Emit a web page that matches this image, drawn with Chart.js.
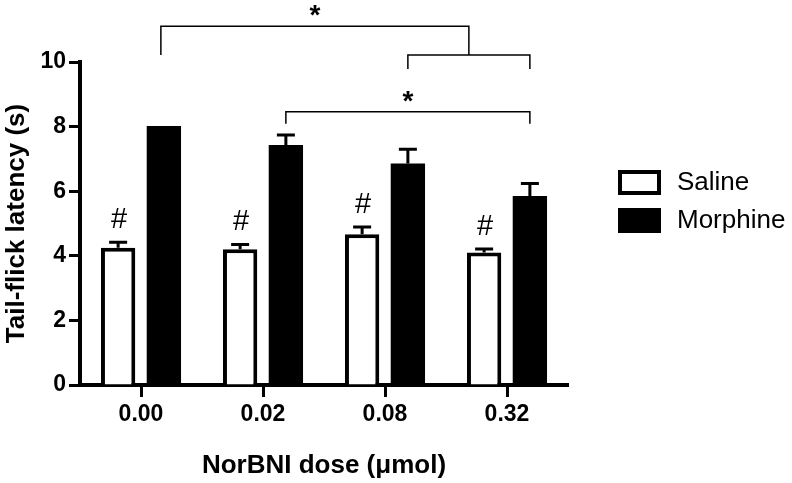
<!DOCTYPE html>
<html>
<head>
<meta charset="utf-8">
<script src="https://cdn.jsdelivr.net/npm/chart.js@4.4.1/dist/chart.umd.min.js"></script>
<style>
  html, body { margin: 0; padding: 0; background: #fff; }
</style>
</head>
<body>
<canvas id="tailChart" width="792" height="483"></canvas>
<script>
const doses = ['0.00', '0.02', '0.08', '0.32'];
const salineMean = [4.25, 4.2, 4.67, 4.1];
const salineSem = [0.17, 0.15, 0.22, 0.11];
const morphineMean = [8.02, 7.43, 6.86, 5.85];
const morphineSem = [0, 0.31, 0.44, 0.39];
const yTicks = [0, 2, 4, 6, 8, 10];

// '#' over saline bars
const hashMarks = [true, true, true, true];

// brackets between morphine bars (dose indexes, heights in seconds)
const pairBracket = { from: 2, to: 3, y: 10.22, leg: 9.78 };
const topBracket = { from: 0, y: 11.11, leg: 10.22, label: '*' };
const lowBracket = { from: 1, to: 3, y: 8.46, leg: 8.09, label: '*' };

const FONT = '"Liberation Sans", Arial, Helvetica, sans-serif';
Chart.defaults.font.family = FONT;
Chart.defaults.color = '#000';

const annotate = {
    id: 'annotate',
    afterDatasetsDraw(chart) {
        const { ctx, scales: { y } } = chart;
        const sal = chart.getDatasetMeta(0).data;
        const mor = chart.getDatasetMeta(1).data;

        ctx.save();
        ctx.strokeStyle = '#000';
        ctx.fillStyle = '#000';

        // error bars (up only)
        ctx.lineWidth = 3;
        [[sal, salineMean, salineSem], [mor, morphineMean, morphineSem]].forEach(([bars, means, sems]) => {
            bars.forEach((bar, i) => {
                if (!sems[i]) return;
                const top = y.getPixelForValue(means[i] + sems[i]);
                ctx.beginPath();
                ctx.moveTo(bar.x, bar.y);
                ctx.lineTo(bar.x, top);
                ctx.moveTo(bar.x - 9, top);
                ctx.lineTo(bar.x + 9, top);
                ctx.stroke();
            });
        });

        // hash marks
        ctx.font = '29px ' + FONT;
        ctx.textAlign = 'center';
        ctx.textBaseline = 'alphabetic';
        sal.forEach((bar, i) => {
            if (!hashMarks[i]) return;
            const top = y.getPixelForValue(salineMean[i] + salineSem[i]);
            ctx.fillText('#', bar.x + 1, top - 14);
        });

        // significance brackets
        ctx.lineWidth = 1.5;
        const py = v => y.getPixelForValue(v);

        const pL = mor[pairBracket.from].x, pR = mor[pairBracket.to].x;
        ctx.beginPath();
        ctx.moveTo(pL, py(pairBracket.leg));
        ctx.lineTo(pL, py(pairBracket.y));
        ctx.lineTo(pR, py(pairBracket.y));
        ctx.lineTo(pR, py(pairBracket.leg));
        ctx.stroke();

        const tL = mor[topBracket.from].x - 3, tR = (pL + pR) / 2;
        ctx.beginPath();
        ctx.moveTo(tL, py(topBracket.leg));
        ctx.lineTo(tL, py(topBracket.y));
        ctx.lineTo(tR, py(topBracket.y));
        ctx.lineTo(tR, py(pairBracket.y));
        ctx.stroke();

        const lL = mor[lowBracket.from].x, lR = mor[lowBracket.to].x;
        ctx.beginPath();
        ctx.moveTo(lL, py(lowBracket.leg));
        ctx.lineTo(lL, py(lowBracket.y));
        ctx.lineTo(lR, py(lowBracket.y));
        ctx.lineTo(lR, py(lowBracket.leg));
        ctx.stroke();

        ctx.font = 'bold 28px ' + FONT;
        ctx.fillText(topBracket.label, (tL + tR) / 2, py(topBracket.y) - 2);
        ctx.fillText(lowBracket.label, (lL + lR) / 2, py(lowBracket.y) - 2);
        ctx.restore();
    },
    afterDraw(chart) {
        // legend, drawn by hand to sit beside the plot
        const { ctx, chartArea } = chart;
        const x0 = chartArea.right + 50;
        let yy = 170;
        ctx.save();
        ctx.font = '26px ' + FONT;
        ctx.textAlign = 'left';
        ctx.textBaseline = 'middle';
        chart.data.datasets.forEach(ds => {
            ctx.fillStyle = ds.backgroundColor;
            ctx.fillRect(x0, yy, 43, 25);
            ctx.lineWidth = 4;
            ctx.strokeStyle = '#000';
            ctx.strokeRect(x0 + 2, yy + 2, 39, 21);
            ctx.fillStyle = '#000';
            ctx.fillText(ds.label, x0 + 59, yy + 13);
            yy += 38;
        });
        ctx.restore();
    }
};

new Chart(document.getElementById('tailChart'), {
    type: 'bar',
    data: {
        labels: doses,
        datasets: [
            {
                label: 'Saline',
                data: salineMean,
                backgroundColor: '#ffffff',
                borderColor: '#000000',
                borderWidth: 4
            },
            {
                label: 'Morphine',
                data: morphineMean,
                backgroundColor: '#000000',
                borderWidth: 0
            }
        ]
    },
    options: {
        responsive: false,
        animation: false,
        datasets: {
            bar: { categoryPercentage: 0.75, barPercentage: 0.75 }
        },
        layout: { padding: { top: 62, right: 224, left: 0, bottom: 0 } },
        plugins: {
            legend: { display: false },
            tooltip: { enabled: false }
        },
        scales: {
            x: {
                z: 1,
                afterFit: s => { s.height = 98; },
                grid: {
                    offset: false,
                    drawOnChartArea: false,
                    drawTicks: true,
                    tickLength: 12,
                    tickWidth: 3,
                    tickColor: '#000'
                },
                border: { display: true, color: '#000', width: 4 },
                ticks: { font: { size: 23, weight: 'bold' }, padding: 4 },
                title: {
                    display: true,
                    text: 'NorBNI dose (μmol)',
                    font: { size: 26, weight: 'bold' },
                    padding: { top: 0, bottom: 2 }
                }
            },
            y: {
                min: 0,
                max: 10,
                afterFit: s => { s.width = 80; },
                afterBuildTicks: s => { s.ticks = yTicks.map(v => ({ value: v })); },
                grid: {
                    drawOnChartArea: false,
                    drawTicks: true,
                    tickLength: 11,
                    tickWidth: 3,
                    tickColor: '#000'
                },
                border: { display: true, color: '#000', width: 4 },
                ticks: { font: { size: 23, weight: 'bold' }, padding: 3 },
                title: {
                    display: true,
                    text: 'Tail-flick latency (s)',
                    font: { size: 26, weight: 'bold' },
                    padding: { top: 1, bottom: 0 }
                }
            }
        }
    },
    plugins: [annotate]
});
</script>
</body>
</html>
